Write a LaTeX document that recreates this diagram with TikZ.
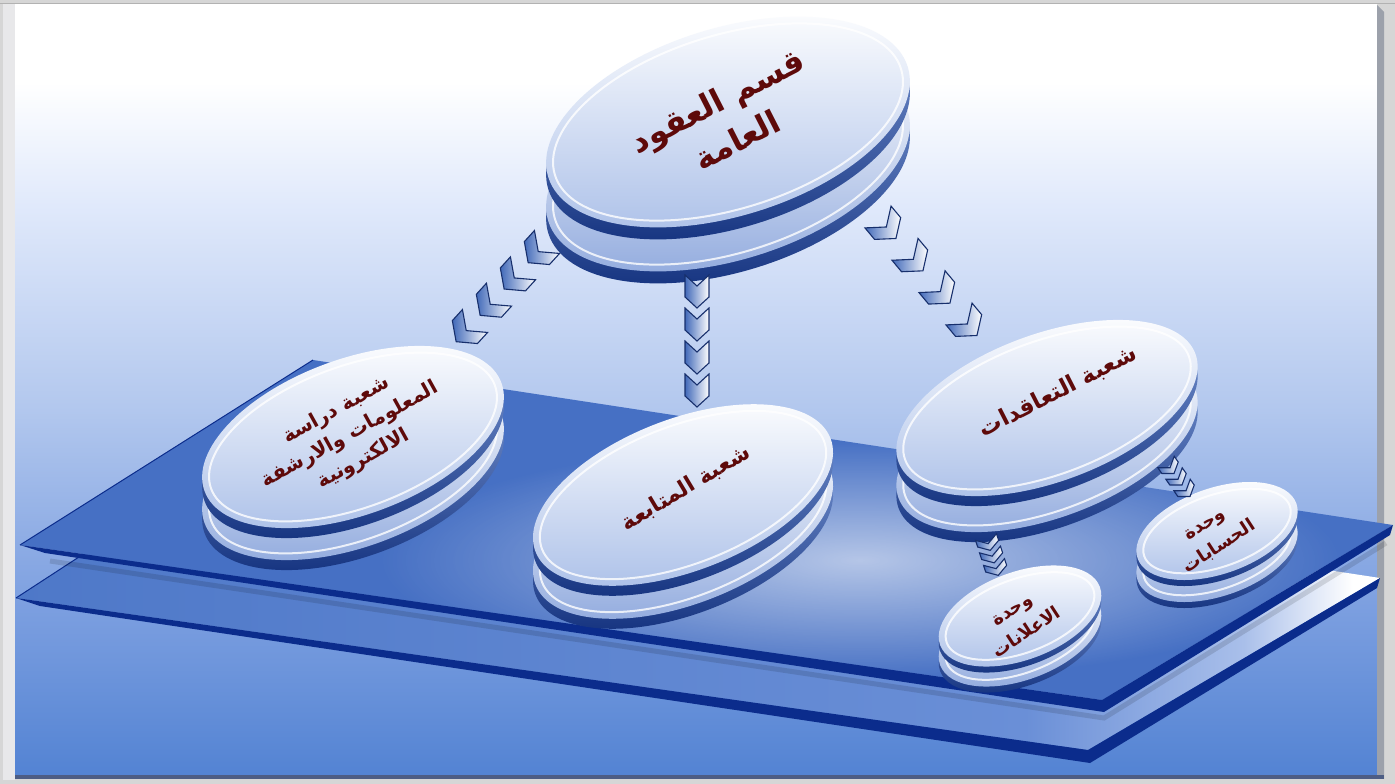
\documentclass[tikz,border=0pt]{standalone}
\usepackage{fontspec}
\newfontfamily\arabicfont[Script=Arabic]{DejaVu Sans}
\TeXXeTstate=1
\usetikzlibrary{calc,fadings}
\tikzfading[name=softglow, inner color=transparent!0, outer color=transparent!100]
\definecolor{txtc}{HTML}{5E0A0A}
\definecolor{bandtop}{HTML}{7E9CD8}
\definecolor{bandbot}{HTML}{112F7C}
\definecolor{facebot}{HTML}{AABFE8}
\definecolor{sidebot}{HTML}{8EA8DD}
\definecolor{rimc}{HTML}{0B2C8C}
\definecolor{chevline}{HTML}{172F6C}
\definecolor{chevdark}{HTML}{4169B9}
\definecolor{framegray}{HTML}{D6D6D6}
\definecolor{leftstrip}{HTML}{E8E8EA}
\definecolor{rbevel}{HTML}{9CA1AB}
\definecolor{bline}{HTML}{4D5D84}
\definecolor{pa}{HTML}{5383D3}
\definecolor{pb}{HTML}{7C9FE0}
\definecolor{pc}{HTML}{B3C8EE}
\definecolor{pd}{HTML}{E0E9FB}
\definecolor{upbase}{HTML}{4670C4}
\definecolor{lpa}{HTML}{4E78C8}
\definecolor{lpb}{HTML}{6A8FD7}
\definecolor{lpc}{HTML}{A9BFEA}
\pgfdeclareverticalshading{panelsh}{100bp}{color(0bp)=(pa); color(25bp)=(pa); color(36bp)=(pb); color(49bp)=(pc); color(62bp)=(pd); color(70bp)=(white); color(100bp)=(white)}
\pgfdeclarehorizontalshading{lowplane}{100bp}{color(0bp)=(lpa); color(25bp)=(lpa); color(62bp)=(lpb); color(70bp)=(lpc); color(74bp)=(white); color(100bp)=(white)}

% one disk layer: x, y, a, b, rotation, band thickness, colour of face bottom
\newcommand\dlayer[7]{%
  \begin{scope}[shift={(#1,#2+#6)}, rotate=#5]
    \shade[top color=bandtop, bottom color=bandbot] (0,0) ellipse [x radius=#3pt, y radius=#4pt];
  \end{scope}
  \begin{scope}[shift={(#1,#2)}, rotate=#5]
    \shade[top color=white, bottom color=#7] (0,0) ellipse [x radius=#3pt, y radius=#4pt];
    \draw[white, line width=2pt, opacity=.8] (0,0) ellipse [x radius=#3pt-7pt, y radius=#4pt-7pt];
  \end{scope}}
\newcommand\diskstack[7]{%
  \dlayer{#1}{#2+#6}{#3}{#4}{#5}{#7}{sidebot}%
  \dlayer{#1}{#2}{#3}{#4}{#5}{#7}{facebot}}
\newcommand\chevchain[6]{%
  \pgfmathanglebetweenpoints{\pgfpointanchor{#1}{center}}{\pgfpointanchor{#2}{center}}%
  \let\chang\pgfmathresult
  \foreach \k in {1,...,#3}{%
    \pgfmathsetmacro\chevt{(\k-1)/(#3-1)}%
    \begin{scope}[shift={($(#1)!\chevt!(#2)$)}, rotate=\chang, x=1pt, y=1pt]
      \shade[left color=chevdark, right color=white, draw=chevline, line width=1.1pt, line join=miter]
        (0,#5/2) -- (#4-#6,#5/2) -- (#4,0) -- (#4-#6,-#5/2) -- (0,-#5/2) -- (#6,0) -- cycle;
    \end{scope}}}

\begin{document}
\begin{tikzpicture}[x=1pt,y=-1pt,
  txt/.style={text=txtc, align=center, inner sep=0pt}]
\useasboundingbox (0,0) rectangle (1395,784);
% frame and panel
\fill[framegray] (0,0) rectangle (1395,784);
\fill[leftstrip] (3,4) rectangle (15,780);
\draw[gray!60, line width=1pt] (0,3.5) -- (1395,3.5);
\shade[shading=panelsh] (15,5) rectangle (1377,776);
\fill[rbevel] (1377,5) -- (1384,12) -- (1384,779) -- (1377,776) -- cycle;
\fill[bline] (15,775) rectangle (1384,779);
% lower plane
\coordinate (L1) at (300,413);
\coordinate (L2) at (1380,578);
\coordinate (L3) at (1088,750);
\coordinate (L4) at (16,598);
\shade[shading=lowplane] (L1) -- (L2) -- (L3) -- (L4) -- cycle;
\draw[rimc, line width=1pt] (L4) -- (L1);
\fill[rimc] (L4) -- (L3) -- (L2) -- (1377,588) -- (1090,763) -- (40,606) -- cycle;
% upper plane
\coordinate (U1) at (313,360);
\coordinate (U2) at (1393,525);
\coordinate (U3) at (1102,700);
\coordinate (U4) at (20,545);
\draw[black, opacity=.12, line width=5pt] (50,561) -- (1104,718) -- (1386,543);
\fill[upbase] (U1) -- (U2) -- (U3) -- (U4) -- cycle;
\begin{scope}
  \clip (U1) -- (U2) -- (U3) -- (U4) -- cycle;
  \fill[white, opacity=.6, path fading=softglow] (860,560) ellipse [x radius=480pt, y radius=120pt];
\end{scope}
\draw[rimc, line width=1pt] (U4) -- (U1);
\fill[rimc] (U4) -- (U3) -- (U2) -- (1390,535) -- (1104,712) -- (45,553) -- cycle;
% disks
\diskstack{728}{122}{188}{94}{17}{44}{12}
\diskstack{353}{437}{158}{78}{20}{32}{10}
\diskstack{683}{495}{158}{76}{21}{33}{10}
\diskstack{1047}{408}{158}{74}{20}{36}{10}
\diskstack{1020}{616}{85}{44}{20}{20}{6}
\diskstack{1217}{531}{84}{43}{19}{22}{6}
% texts
\node[txt, rotate=27, font=\arabicfont\bfseries\fontsize{32}{44}\selectfont] (tA) at (727,120) {\beginR قسم العقود\endR\\\beginR العامة\endR};
\node[txt, rotate=29, font=\arabicfont\bfseries\fontsize{20}{28}\selectfont] (tB) at (350,435) {\beginR شعبة دراسة\endR\\\beginR المعلومات والارشفة\endR\\\beginR الالكترونية\endR};
\node[txt, rotate=31, font=\arabicfont\bfseries\fontsize{22}{30}\selectfont] (tC) at (686,488) {\beginR شعبة المتابعة\endR};
\node[txt, rotate=27, font=\arabicfont\bfseries\fontsize{23}{30}\selectfont] (tD) at (1058,392) {\beginR شعبة التعاقدات\endR};
\node[txt, rotate=33, font=\arabicfont\bfseries\fontsize{18}{27}\selectfont] (tE) at (1213,537) {\beginR وحدة\endR\\\beginR الحسابات\endR};
\node[txt, rotate=33, font=\arabicfont\bfseries\fontsize{18}{27}\selectfont] (tF) at (1020,622) {\beginR وحدة\endR\\\beginR الاعلانات\endR};
% chevron connectors
\coordinate (abS) at (547,242); \coordinate (abE) at (475,321);
\coordinate (acS) at (697,275); \coordinate (acE) at (697,374);
\coordinate (adS) at (878,217); \coordinate (adE) at (959,314);
\coordinate (deS) at (1166,462); \coordinate (deE) at (1182,485);
\coordinate (dfS) at (986,537); \coordinate (dfE) at (994,562);
\chevchain{abS}{abE}{4}{28}{34}{13}
\chevchain{acS}{acE}{4}{33}{24}{11}
\chevchain{adS}{adE}{4}{28}{34}{13}
\chevchain{deS}{deE}{3}{14}{20}{7}
\chevchain{dfS}{dfE}{3}{14}{22}{7}
\end{tikzpicture}
\end{document}
